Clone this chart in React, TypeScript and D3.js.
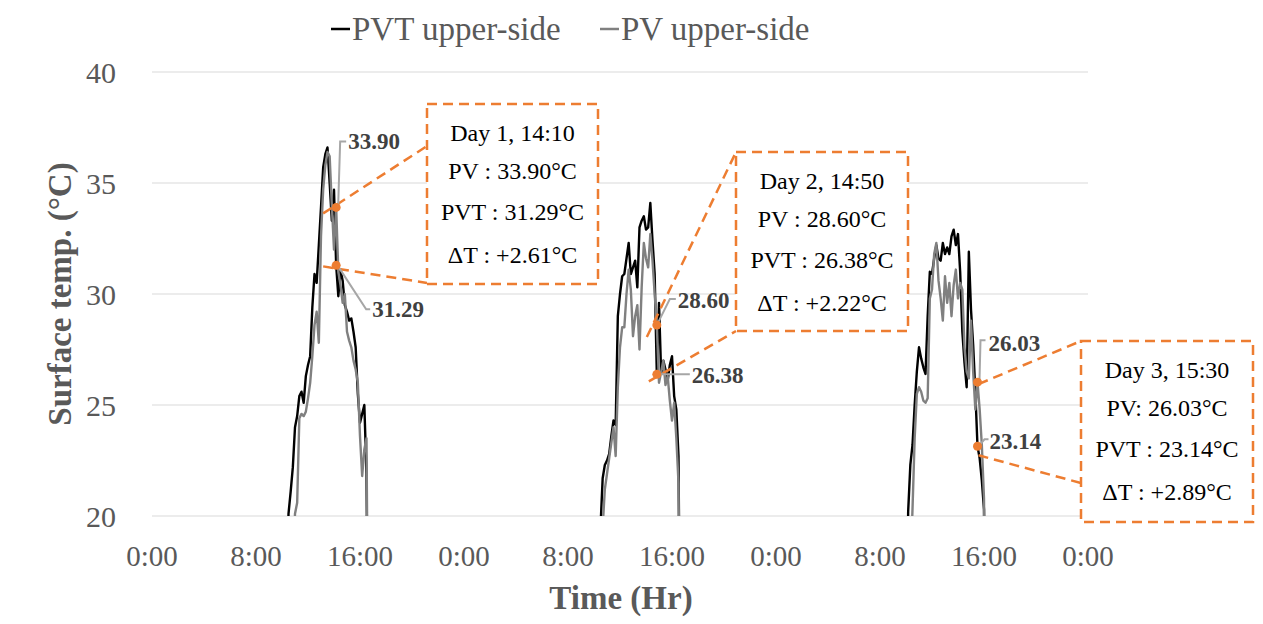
import React from "react";
import * as d3 from "d3";

// axis ticks (hours from start of day 1, °C)
const hourTicks = [0, 8, 16, 24, 32, 40, 48, 56, 64, 72];
const tempTicks = [20, 25, 30, 35, 40];

// 10-minute readings, one list per day, starting at dayStarts[i]
const dayStarts = ["10:20", "10:20", "10:00"];

const pvtDay1 = [12.0, 20.1, 21.1, 22.2, 24.0, 24.5, 25.4, 25.6, 25.1, 26.3, 26.8, 27.2, 29.4, 30.9, 30.5, 32.2, 33.9, 35.7, 36.3, 36.6, 35.0, 33.3, 34.7, 31.29, 29.9, 31.1, 30.6, 29.5, 29.2, 28.8, 28.9, 28.3, 27.6, 25.5, 24.2, 24.6, 25.0, 21.9, 10.0];
const pvDay1 = [12.0, 14.0, 15.5, 17.0, 20.1, 20.6, 24.4, 24.6, 24.5, 24.7, 25.3, 26.0, 27.2, 28.6, 29.2, 27.8, 32.6, 34.7, 35.8, 36.4, 36.2, 34.0, 32.0, 33.9, 31.0, 30.4, 29.6, 30.0, 28.3, 27.9, 27.6, 27.0, 26.6, 26.0, 23.6, 21.8, 23.0, 23.5, 10.0];

const pvtDay2 = [12.0, 19.5, 21.7, 22.3, 22.5, 22.8, 23.6, 24.3, 24.1, 29.0, 30.0, 30.8, 30.9, 31.6, 32.3, 30.9, 31.2, 31.5, 30.3, 33.0, 33.3, 33.5, 32.9, 33.0, 34.1, 32.4, 30.9, 26.38, 29.6, 26.4, 27.0, 26.6, 26.1, 26.8, 27.2, 25.4, 24.8, 22.7, 10.0];
const pvDay2 = [12.0, 15.0, 19.5, 21.2, 21.9, 22.6, 23.3, 24.0, 22.7, 25.8, 27.6, 28.5, 28.5, 30.0, 31.1, 30.2, 28.1, 29.0, 29.5, 27.5, 30.3, 32.3, 31.6, 31.2, 32.7, 31.5, 30.0, 28.6, 26.0, 26.5, 27.0, 25.9, 26.3, 25.2, 24.3, 25.1, 23.5, 21.5, 10.0];

const pvtDay3 = [12.0, 20.2, 22.3, 23.2, 25.0, 26.5, 27.6, 27.1, 26.7, 26.4, 29.0, 31.0, 30.9, 31.6, 32.2, 31.6, 31.5, 32.3, 31.8, 32.1, 31.8, 32.6, 32.9, 32.2, 32.7, 31.0, 28.3, 26.9, 25.8, 31.9, 29.3, 27.7, 25.6, 23.14, 22.6, 21.6, 20.3, 10.0];
const pvDay3 = [12.0, 14.0, 17.5, 20.3, 23.5, 25.5, 25.8, 25.6, 25.2, 25.1, 25.3, 29.8, 30.2, 31.8, 32.3, 30.6, 29.8, 28.8, 30.8, 29.6, 30.5, 29.0, 30.4, 31.1, 29.8, 30.5, 30.2, 27.6, 26.5, 26.2, 28.8, 26.5, 24.8, 26.03, 24.8, 23.2, 20.8, 10.0];

const pvtDays = [pvtDay1, pvtDay2, pvtDay3];
const pvDays = [pvDay1, pvDay2, pvDay3];

// callouts
const calloutTimes = ["14:10", "14:50", "15:30"];
const calloutPV = [33.9, 28.6, 26.03];
const calloutPVT = [31.29, 26.38, 23.14];
const calloutPVPrefix = ["PV : ", "PV : ", "PV: "];

const FONT = "'Liberation Serif', 'Times New Roman', serif";
const ORANGE = "#ED7D31";
const AXIS_TEXT = "#595959";

// placement of boxes and leader lines (pixels, not data)
const calloutLayout = [
  {
    box: { x: 427, y: 104, w: 171, h: 180 },
    pvLead: { from: [-13, 6], to: [427, 146] },
    pvtLead: { from: [-13, 1], to: [427, 283] },
    pvLabel: { path: [[2, -2], [4, -66], [10, -66]], text: [12, -66] },
    pvtLabel: { path: [[2, 1], [30, 44], [34, 44]], text: [36, 44] },
  },
  {
    box: { x: 736, y: 152, w: 172, h: 179 },
    pvLead: { from: [-10, 12], to: [736, 152] },
    pvtLead: { from: [-8, 7], to: [736, 331] },
    pvLabel: { path: [[1, -2], [13, -26], [19, -26]], text: [21, -25] },
    pvtLabel: { path: [[1, 0], [33, 0]], text: [35, 1] },
  },
  {
    box: { x: 1081, y: 341, w: 172, h: 181 },
    pvLead: { from: [1, 2], to: [1081, 341] },
    pvtLead: { from: [1, 9], to: [1081, 483] },
    pvLabel: { path: [[2, -2], [3, -42], [8, -42]], text: [11, -39] },
    pvtLabel: { path: [[1, 0], [7, -7], [11, -7]], text: [12, -5] },
  },
];

const toHours = (s: string) => {
  const [h, m] = s.split(":").map(Number);
  return h + m / 60;
};

interface Pt {
  t: number;
  v: number;
}

const buildSeries = (days: number[][]): Pt[] =>
  days.flatMap((vals, d) => {
    const start = d * 24 + toHours(dayStarts[d]);
    return vals.map((v, i) => ({ t: start + i / 6, v }));
  });

const App: React.FC = () => {
  const width = 1263;
  const height = 624;
  const margin = { left: 152, right: 1088, top: 72, bottom: 516 };

  const xScale = d3.scaleLinear().domain([0, 72]).range([margin.left, margin.right]);
  const yScale = d3.scaleLinear().domain([20, 40]).range([margin.bottom, margin.top]);

  const line = d3
    .line<Pt>()
    .x((d) => xScale(d.t))
    .y((d) => yScale(d.v));

  const pvtSeries = buildSeries(pvtDays);
  const pvSeries = buildSeries(pvDays);

  const fmtHour = (h: number) => `${h % 24}:00`;

  return (
    <svg
      width={width}
      height={height}
      style={{ position: "absolute", left: 0, top: 0, background: "#fff" }}
      fontFamily={FONT}
    >
      <defs>
        <clipPath id="plot-clip">
          <rect x={margin.left} y={margin.top - 10} width={margin.right - margin.left} height={margin.bottom - margin.top + 10} />
        </clipPath>
      </defs>

      {/* legend */}
      <g>
        <line x1={331} x2={350} y1={29} y2={29} stroke="#000" strokeWidth={2.5} />
        <text x={352} y={29} dominantBaseline="central" fontSize={33} fill={AXIS_TEXT}>
          PVT upper-side
        </text>
        <line x1={600} x2={619} y1={29} y2={29} stroke="#808080" strokeWidth={2.5} />
        <text x={621} y={29} dominantBaseline="central" fontSize={33} fill={AXIS_TEXT}>
          PV upper-side
        </text>
      </g>

      {/* grid */}
      {tempTicks.map((t) => (
        <line
          key={`g${t}`}
          x1={margin.left}
          x2={margin.right}
          y1={yScale(t)}
          y2={yScale(t)}
          stroke="#d9d9d9"
          strokeWidth={1}
        />
      ))}

      {/* y ticks */}
      {tempTicks.map((t) => (
        <text
          key={`y${t}`}
          x={116}
          y={yScale(t)}
          textAnchor="end"
          dominantBaseline="central"
          fontSize={30}
          fill={AXIS_TEXT}
        >
          {t}
        </text>
      ))}

      {/* x ticks */}
      {hourTicks.map((h) => (
        <text
          key={`x${h}`}
          x={xScale(h)}
          y={556}
          textAnchor="middle"
          dominantBaseline="central"
          fontSize={29}
          fill={AXIS_TEXT}
        >
          {fmtHour(h)}
        </text>
      ))}

      {/* axis titles */}
      <text
        transform={`translate(60,${(margin.top + margin.bottom) / 2}) rotate(-90)`}
        textAnchor="middle"
        dominantBaseline="central"
        fontSize={33}
        fontWeight="bold"
        fill={AXIS_TEXT}
      >
        Surface temp. (°C)
      </text>
      <text x={621} y={598} textAnchor="middle" dominantBaseline="central" fontSize={33} fontWeight="bold" fill={AXIS_TEXT}>
        Time (Hr)
      </text>

      {/* series */}
      <g clipPath="url(#plot-clip)">
        <path d={line(pvtSeries) || ""} fill="none" stroke="#000" strokeWidth={2.4} strokeLinejoin="round" />
        <path d={line(pvSeries) || ""} fill="none" stroke="#808080" strokeWidth={2.4} strokeLinejoin="round" />
      </g>

      {/* callouts */}
      {calloutTimes.map((time, i) => {
        const L = calloutLayout[i];
        const t = i * 24 + toHours(time);
        const cx = xScale(t);
        const pvY = yScale(calloutPV[i]);
        const pvtY = yScale(calloutPVT[i]);
        const delta = calloutPV[i] - calloutPVT[i];
        const rows = [
          `Day ${i + 1}, ${time}`,
          `${calloutPVPrefix[i]}${calloutPV[i].toFixed(2)}°C`,
          `PVT : ${calloutPVT[i].toFixed(2)}°C`,
          `ΔT : +${delta.toFixed(2)}°C`,
        ];
        const rowOffsets = [29, 67, 108, 151];
        const pts = (arr: number[][], y0: number) =>
          arr.map(([dx, dy]) => `${cx + dx},${y0 + dy}`).join(" ");
        return (
          <g key={`c${i}`}>
            <line
              x1={cx + L.pvLead.from[0]}
              y1={pvY + L.pvLead.from[1]}
              x2={L.pvLead.to[0]}
              y2={L.pvLead.to[1]}
              stroke={ORANGE}
              strokeWidth={2.5}
              strokeDasharray="10 6"
            />
            <line
              x1={cx + L.pvtLead.from[0]}
              y1={pvtY + L.pvtLead.from[1]}
              x2={L.pvtLead.to[0]}
              y2={L.pvtLead.to[1]}
              stroke={ORANGE}
              strokeWidth={2.5}
              strokeDasharray="10 6"
            />
            <rect
              x={L.box.x}
              y={L.box.y}
              width={L.box.w}
              height={L.box.h}
              fill="#fff"
              stroke={ORANGE}
              strokeWidth={2.5}
              strokeDasharray="10 6"
            />
            {rows.map((r, k) => (
              <text
                key={k}
                x={L.box.x + L.box.w / 2}
                y={L.box.y + rowOffsets[k]}
                textAnchor="middle"
                dominantBaseline="central"
                fontSize={24}
                fill="#000"
              >
                {r}
              </text>
            ))}
            <polyline points={pts(L.pvLabel.path, pvY)} fill="none" stroke="#a6a6a6" strokeWidth={2} />
            <polyline points={pts(L.pvtLabel.path, pvtY)} fill="none" stroke="#a6a6a6" strokeWidth={2} />
            <text
              x={cx + L.pvLabel.text[0]}
              y={pvY + L.pvLabel.text[1]}
              dominantBaseline="central"
              fontSize={23}
              fontWeight="bold"
              fill="#404040"
            >
              {calloutPV[i].toFixed(2)}
            </text>
            <text
              x={cx + L.pvtLabel.text[0]}
              y={pvtY + L.pvtLabel.text[1]}
              dominantBaseline="central"
              fontSize={23}
              fontWeight="bold"
              fill="#404040"
            >
              {calloutPVT[i].toFixed(2)}
            </text>
            <circle cx={cx} cy={pvY} r={4.5} fill={ORANGE} />
            <circle cx={cx} cy={pvtY} r={4.5} fill={ORANGE} />
          </g>
        );
      })}
    </svg>
  );
};

export default App;
